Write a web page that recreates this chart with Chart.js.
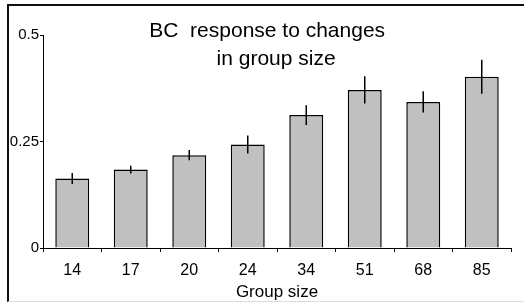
<!DOCTYPE html>
<html>
<head>
<meta charset="utf-8">
<script src="https://cdn.jsdelivr.net/npm/chart.js@4/dist/chart.umd.min.js"></script>
<style>
  html, body { margin: 0; padding: 0; background: #fff; }
  #wrap { position: relative; width: 524px; height: 303px; overflow: hidden; }
  #frame { position: absolute; left: 7px; top: 4px; width: 517px; height: 298px; box-sizing: border-box;
           border-top: 2px solid #111; border-left: 2px solid #111; border-bottom: 1px solid #ddd; }
  canvas { position: absolute; left: 0; top: 0; }
</style>
</head>
<body>
<div id="wrap">
  <div id="frame"></div>
  <canvas id="c" width="524" height="303"></canvas>
</div>
<script>
const categories = ["14", "17", "20", "24", "34", "51", "68", "85"];
const values = [0.163, 0.184, 0.218, 0.243, 0.312, 0.371, 0.343, 0.402];
const errors = [0.013, 0.009, 0.012, 0.021, 0.023, 0.032, 0.025, 0.040];
const yTickValues = [0, 0.25, 0.5];
const yTickLabels = ["0", "0.25", "0.5"];
const titleLines = ["BC  response to changes", "in group size"];
const xAxisTitle = "Group size";

const FONT = "'Liberation Sans', Arial, sans-serif";

const errorBarPlugin = {
  id: 'errorBars',
  afterDatasetsDraw(chart) {
    const meta = chart.getDatasetMeta(0);
    const y = chart.scales.y;
    const ctx = chart.ctx;
    ctx.save();
    ctx.strokeStyle = '#000';
    ctx.lineWidth = 1.5;
    meta.data.forEach((bar, i) => {
      const top = y.getPixelForValue(values[i] + errors[i]);
      const bot = y.getPixelForValue(values[i] - errors[i]);
      ctx.beginPath();
      ctx.moveTo(bar.x, top);
      ctx.lineTo(bar.x, bot);
      ctx.stroke();
    });
    ctx.restore();
  }
};

const titlePlugin = {
  id: 'innerTitle',
  afterDraw(chart) {
    const a = chart.chartArea;
    const ctx = chart.ctx;
    ctx.save();
    ctx.fillStyle = '#000';
    ctx.font = '21px ' + FONT;
    ctx.textAlign = 'center';
    ctx.textBaseline = 'alphabetic';
    ctx.fillText(titleLines[0], a.left + a.width * 0.479, a.top + 2);
    ctx.fillText(titleLines[1], a.left + a.width * 0.498, a.top + 30);
    ctx.restore();
  }
};

new Chart(document.getElementById('c'), {
  type: 'bar',
  data: {
    labels: categories,
    datasets: [{
      data: values,
      backgroundColor: '#c0c0c0',
      borderColor: '#000',
      borderWidth: 1.5,
      categoryPercentage: 1,
      barPercentage: 0.58
    }]
  },
  options: {
    responsive: false,
    animation: false,
    devicePixelRatio: 1,
    layout: { padding: { left: 0, right: 13, top: 35, bottom: 0 } },
    plugins: { legend: { display: false }, tooltip: { enabled: false }, title: { display: false } },
    scales: {
      x: {
        type: 'category',
        offset: true,
        grid: { offset: true, drawOnChartArea: false, drawTicks: true, tickLength: 4, color: '#000', lineWidth: 1 },
        border: { display: true, color: '#000', width: 1 },
        ticks: { color: '#000', font: { family: FONT, size: 16 }, padding: 9, maxRotation: 0 },
        title: { display: true, text: xAxisTitle, color: '#000', font: { family: FONT, size: 17 }, padding: { top: 0, bottom: 0 } },
        afterFit(scale) { scale.height = 55; }
      },
      y: {
        min: 0,
        max: 0.5,
        afterBuildTicks(scale) { scale.ticks = yTickValues.map(v => ({ value: v })); },
        grid: { drawOnChartArea: false, drawTicks: true, tickLength: 3, color: '#000', lineWidth: 1 },
        border: { display: true, color: '#000', width: 1 },
        ticks: {
          color: '#000', font: { family: FONT, size: 15 }, padding: 1,
          callback(v) { const i = yTickValues.indexOf(v); return i >= 0 ? yTickLabels[i] : ''; }
        },
        afterFit(scale) { scale.width = 43; }
      }
    }
  },
  plugins: [errorBarPlugin, titlePlugin]
});
</script>
</body>
</html>
